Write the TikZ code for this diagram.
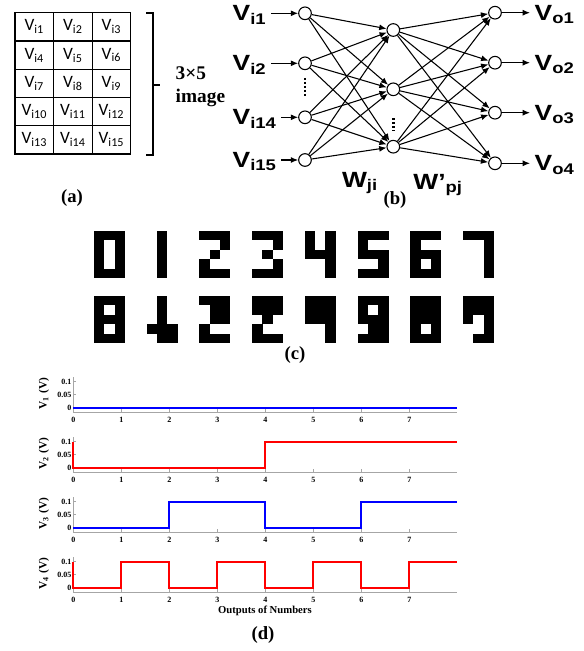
\documentclass[tikz,border=0pt]{standalone}
\usepackage{fontspec}
\setmainfont{Liberation Serif}
\newfontfamily\cellfont{Carlito}
\newfontfamily\netfont[FakeStretch=1.2]{Liberation Sans}
\usetikzlibrary{arrows.meta,calc}

\begin{document}
\begin{tikzpicture}[x=0.75pt,y=-0.75pt,
    cell/.style={draw,line width=0.9pt,minimum width=28.9pt,minimum height=21.2pt,inner sep=0pt,
      font=\cellfont\fontsize{13}{14}\selectfont},
    neuron/.style={circle,draw,line width=0.8pt,minimum size=9.5pt,inner sep=0pt},
    netlab/.style={font=\netfont\bfseries\fontsize{16.5}{17}\selectfont},
    link/.style={line width=0.8pt,-{Latex[length=5.5pt,width=4.5pt]}},
    dotline/.style={line width=2.2pt,dash pattern=on 1.6pt off 1.4pt},
    caption/.style={font=\bfseries\fontsize{14}{16}\selectfont},
    axis/.style={gray!70,line width=0.6pt},
    ticklab/.style={font=\bfseries\fontsize{6}{7}\selectfont,inner sep=1pt},
    ylab/.style={font=\bfseries\fontsize{8.5}{9}\selectfont,inner sep=1pt},
    sigblue/.style={blue,line width=1.5pt},
    sigred/.style={red,line width=1.5pt}]
    \useasboundingbox (0,0) rectangle (584,651);

    % (a) 3x5 input image
    \foreach \r in {0,...,4}
      \foreach \c in {0,...,2} {
        \pgfmathtruncatemacro\idx{3*\r+\c+1}
        \node[cell] (v\idx) at ({34.3+38.57*\c},{26.8+28.26*\r}) {V\textsubscript{i\idx}};
      }
    \draw[line width=1.6pt] (146,12.7) -- (153,12.7) -- (153,155) -- (146,155);
    \draw[line width=1.6pt] (153,85) -- (160,85);
    \node[anchor=west,align=left,font=\bfseries\fontsize{14.5}{17}\selectfont] (imglab) at (171,87) {3×5\\image};
    \node[caption] (capa) at (72,198) {(a)};

    % (b) network
    \foreach \j/\y in {1/13.3,2/63.3,14/117.3,15/160}
      \node[neuron] (i\j) at (305,\y) {};
    \foreach \j/\y in {1/30,2/89.3,3/146.7}
      \node[neuron] (h\j) at (393.3,\y) {};
    \foreach \j/\y in {1/12.7,2/62.7,3/112.7,4/163.3}
      \node[neuron] (o\j) at (495,\y) {};

    \foreach \a in {1,2,14,15}
      \foreach \b in {1,2,3}
        \draw[link] (i\a) -- (h\b);
    \foreach \b in {1,2,3}
      \foreach \c in {1,...,4}
        \draw[link] (h\b) -- (o\c);

    \foreach \j/\y in {1/13.3,2/63.3,14/117.3,15/160} {
      \node[netlab,anchor=base west] (li\j) at (228,{\y+7.5}) {V\textsubscript{i\j}};
      \draw[link] (li\j.east |- i\j) -- (i\j);
    }
    \foreach \j/\y in {1/12.7,2/62.7,3/112.7,4/163.3} {
      \node[netlab,anchor=base west] (lo\j) at (530,{\y+7.5}) {V\textsubscript{o\j}};
      \draw[link] (o\j) -- (lo\j.west |- o\j);
    }
    \draw[dotline] ($(i2)!0.27!(i14)$) -- ($(i2)!0.64!(i14)$);
    \draw[dotline] ($(h2)!0.5!(h3)$) -- ($(h2)!0.72!(h3)$);

    \node[netlab] (wji) at (360,183) {W\textsubscript{ji}};
    \node[netlab] (wpj) at (438,185) {W’\textsubscript{pj}};
    \node[caption] (capb) at (395,200) {(b)};

    % (c) digit patterns, clean and noisy
    \foreach \pat [count=\n from 0] in {
        {1,1,1,1,0,1,1,0,1,1,0,1,1,1,1},
        {0,1,0,0,1,0,0,1,0,0,1,0,0,1,0},
        {1,1,1,0,0,1,0,1,0,1,0,0,1,1,1},
        {1,1,1,0,0,1,0,1,0,0,0,1,1,1,1},
        {1,0,1,1,0,1,1,1,1,0,0,1,0,0,1},
        {1,1,1,1,0,0,1,1,1,0,0,1,1,1,1},
        {1,1,1,1,0,0,1,1,1,1,0,1,1,1,1},
        {1,1,1,0,0,1,0,0,1,0,0,1,0,0,1},
        {1,1,1,1,0,1,1,1,1,1,0,1,1,1,1},
        {0,1,0,0,1,0,0,1,0,1,1,1,0,1,1},
        {1,1,1,0,1,1,0,1,1,1,0,0,1,1,1},
        {1,1,1,1,1,1,0,1,0,1,0,0,1,1,1},
        {1,1,1,1,1,1,1,1,1,0,0,1,0,0,1},
        {1,1,1,1,0,1,1,1,1,0,1,1,1,1,1},
        {1,1,1,1,1,1,1,1,1,1,0,1,1,1,1},
        {1,1,1,1,1,1,1,0,1,0,0,1,0,1,1}} {
      \pgfmathtruncatemacro\gx{mod(\n,8)}
      \pgfmathtruncatemacro\gy{int(\n/8)}
      \foreach \b [count=\k from 0] in \pat {
        \ifnum\b=1
          \pgfmathtruncatemacro\dcol{mod(\k,3)}
          \pgfmathtruncatemacro\drow{int(\k/3)}
          \fill ({94+52.7*\gx+10.33*\dcol},{231+65*\gy+9.4*\drow}) rectangle ++(10.4,9.45);
        \fi
      }
    }
    \node[caption] (capc) at (295,355) {(c)};

    % (d) output voltages
    \foreach \k/\nm in {0/1,1/2,2/3,3/4} {
      \pgfmathsetmacro\yz{407.7+60*\k}
      \draw[axis] (73.3,{\yz-30.5}) -- (73.3,{\yz+4.7}) -- (457.3,{\yz+4.7});
      \foreach \t in {0,...,7} {
        \draw[axis] ({73.3+48*\t},{\yz+4.7}) -- ++(0,-3);
        \node[ticklab] (xt\k\t) at ({73.3+48*\t},{\yz+12.5}) {\t};
      }
      \foreach \v/\txt in {0/0,13/0.05,26/0.1} {
        \draw[axis] (73.3,{\yz-\v}) -- ++(3,0);
        \node[ticklab,anchor=east] (yt\k\v) at (73,{\yz-\v}) {\txt};
      }
      \node[ylab,rotate=90] (yl\k) at (44,{\yz-14}) {V\textsubscript{\nm} (V)};
    }
    \begin{scope}[shift={(73.3,407.7)},x=36pt,y=195pt]
      \draw[sigblue] (0,0) -- (8,0);
    \end{scope}
    \begin{scope}[shift={(73.3,467.7)},x=36pt,y=195pt]
      \draw[sigred] (0,0.1) -- (0,0) -- (4,0) -- (4,0.1) -- (8,0.1);
    \end{scope}
    \begin{scope}[shift={(73.3,527.7)},x=36pt,y=195pt]
      \draw[sigblue] (0,0) -- (2,0) -- (2,0.1) -- (4,0.1) -- (4,0) -- (6,0) -- (6,0.1) -- (8,0.1);
    \end{scope}
    \begin{scope}[shift={(73.3,587.7)},x=36pt,y=195pt]
      \draw[sigred] (0,0.1) -- (0,0) -- (1,0) -- (1,0.1) -- (2,0.1) -- (2,0) -- (3,0) -- (3,0.1)
        -- (4,0.1) -- (4,0) -- (5,0) -- (5,0.1) -- (6,0.1) -- (6,0) -- (7,0) -- (7,0.1) -- (8,0.1);
    \end{scope}
    \node[font=\bfseries\fontsize{8}{9}\selectfont] (xlab) at (265,611) {Outputs of Numbers};
    \node[caption] (capd) at (263,635) {(d)};
\end{tikzpicture}
\end{document}
